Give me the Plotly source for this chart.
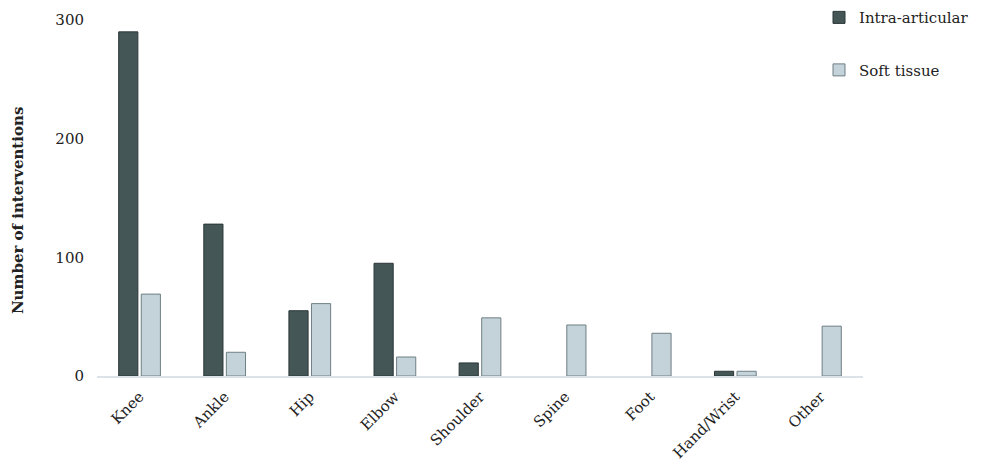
import plotly.graph_objects as go

categories = ["Knee", "Ankle", "Hip", "Elbow", "Shoulder", "Spine", "Foot", "Hand/Wrist", "Other"]
intra_articular = [290, 128, 55, 95, 11, None, None, 4, None]
soft_tissue = [69, 20, 61, 16, 49, 43, 36, 4, 42]
y_ticks = [0, 100, 200, 300]

FONT = "DejaVu Serif"
FS = 15

fig = go.Figure()
fig.add_trace(go.Bar(
    x=categories, y=intra_articular, name="Intra-articular",
    marker=dict(color="#455657", line=dict(color="#2b3637", width=1)),
    legendgroup="a",
))
fig.add_trace(go.Bar(
    x=categories, y=soft_tissue, name="Soft tissue",
    marker=dict(color="#c4d2d9", line=dict(color="#6f7f84", width=1)),
    legendgroup="b",
))

fig.update_layout(
    width=1000, height=476,
    margin=dict(l=89, r=145, t=12, b=108, autoexpand=False),
    paper_bgcolor="white", plot_bgcolor="white",
    barmode="group", bargap=0.47, bargroupgap=0.15,
    font=dict(family=FONT, size=FS, color="#222222"),
    showlegend=True,
    legend=dict(
        xref="container", yref="paper", x=0.811, y=1.053,
        xanchor="left", yanchor="top",
        font=dict(family=FONT, size=FS, color="#222222"),
        tracegroupgap=30, traceorder="grouped",
        itemwidth=30, bgcolor="rgba(0,0,0,0)",
    ),
    xaxis=dict(
        range=[-0.5, 8.5], showgrid=False, showline=True,
        linecolor="#dbe3e8", linewidth=2, tickangle=-45,
        ticks="", ticklabelstandoff=4,
        tickfont=dict(family=FONT, size=FS, color="#222222"),
    ),
    yaxis=dict(
        range=[0, 300], tickvals=y_ticks, showgrid=False, showline=False,
        zeroline=False, ticks="", ticklabelstandoff=12,
        tickfont=dict(family=FONT, size=FS, color="#222222"),
    ),
    annotations=[dict(
        text="<b>Number of interventions</b>", textangle=-90,
        xref="paper", yref="paper", x=-0.103, y=0.4635,
        xanchor="center", yanchor="middle", showarrow=False,
        font=dict(family=FONT, size=FS, color="#222222"),
    )],
)

fig.write_html("out.html")
